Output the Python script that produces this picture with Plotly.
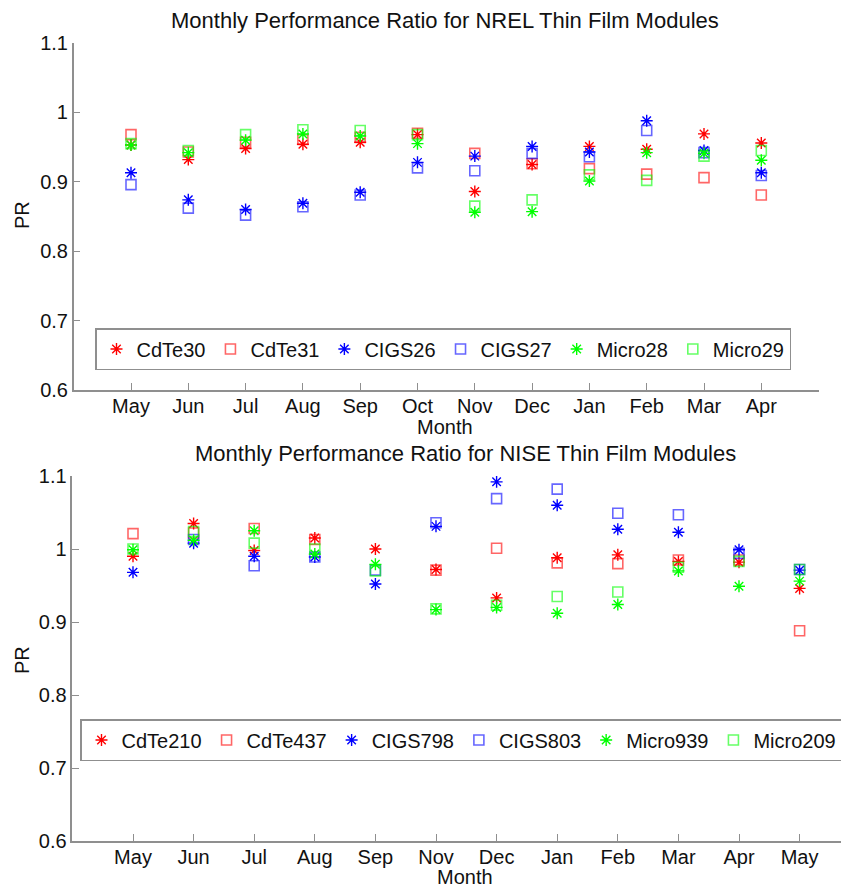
import plotly.graph_objects as go

# ---------------- data ----------------
month_pos = list(range(1, 13))
months_nrel = ["May", "Jun", "Jul", "Aug", "Sep", "Oct", "Nov", "Dec", "Jan", "Feb", "Mar", "Apr"]
months_nise = ["May", "Jun", "Jul", "Aug", "Sep", "Nov", "Dec", "Jan", "Feb", "Mar", "Apr", "May"]
y_ticks = [0.6, 0.7, 0.8, 0.9, 1.0, 1.1]
y_ticktext = ["0.6", "0.7", "0.8", "0.9", "1", "1.1"]

# NREL
cdte30 = [0.953, 0.932, 0.948, 0.954, 0.957, 0.968, 0.886, 0.925, 0.951, 0.947, 0.969, 0.956]
cdte31 = [0.968, 0.943, 0.957, 0.961, 0.964, 0.970, 0.941, 0.926, 0.919, 0.911, 0.906, 0.881]
cigs26 = [0.913, 0.874, 0.860, 0.869, 0.885, 0.928, 0.937, 0.951, 0.943, 0.988, 0.945, 0.913]
cigs27 = [0.896, 0.862, 0.852, 0.864, 0.881, 0.920, 0.916, 0.941, 0.936, 0.974, 0.942, 0.909]
micro28 = [0.953, 0.942, 0.960, 0.969, 0.966, 0.955, 0.856, 0.857, 0.901, 0.942, 0.941, 0.931]
micro29 = [0.955, 0.945, 0.968, 0.975, 0.974, 0.968, 0.865, 0.874, 0.910, 0.902, 0.937, 0.945]

# NISE
cdte210 = [0.990, 1.035, 0.998, 1.015, 1.000, 0.972, 0.933, 0.988, 0.992, 0.983, 0.982, 0.946]
cdte437 = [1.021, 1.022, 1.028, 1.013, None, 0.971, 1.001, 0.981, 0.980, 0.985, 0.985, 0.888]
cigs798 = [0.968, 1.008, 0.990, 0.989, 0.952, 1.031, 1.092, 1.060, 1.027, 1.023, 0.999, 0.971]
cigs803 = [None, 1.013, 0.977, 0.989, 0.971, 1.036, 1.069, 1.082, 1.049, 1.047, 0.994, 0.972]
micro939 = [0.999, 1.012, 1.025, 0.993, 0.979, 0.917, 0.920, 0.912, 0.924, 0.970, 0.949, 0.956]
micro209 = [1.000, 1.024, 1.008, 1.000, 0.970, 0.918, 0.923, 0.935, 0.941, 0.975, 0.983, 0.972]

RED, BLUE, GREEN = "#ff0000", "#0000ff", "#00ff00"
FONT = "Liberation Sans, Arial, sans-serif"

top_series = [("CdTe30", cdte30, RED, "star"), ("CdTe31", cdte31, RED, "sq"),
              ("CIGS26", cigs26, BLUE, "star"), ("CIGS27", cigs27, BLUE, "sq"),
              ("Micro28", micro28, GREEN, "star"), ("Micro29", micro29, GREEN, "sq")]
bot_series = [("CdTe210", cdte210, RED, "star"), ("CdTe437", cdte437, RED, "sq"),
              ("CIGS798", cigs798, BLUE, "star"), ("CIGS803", cigs803, BLUE, "sq"),
              ("Micro939", micro939, GREEN, "star"), ("Micro209", micro209, GREEN, "sq")]

fig = go.Figure()


def marker_for(color, kind):
    if kind == "star":
        return dict(symbol="asterisk-open", size=10, color=color,
                    line=dict(color=color, width=1.4))
    return dict(symbol="square-open", size=10, color=color, opacity=0.6,
                line=dict(color=color, width=1.6))


for name, vals, color, kind in top_series:
    fig.add_trace(go.Scatter(x=month_pos, y=vals, mode="markers", name=name,
                             marker=marker_for(color, kind), xaxis="x", yaxis="y",
                             legend="legend"))
for name, vals, color, kind in bot_series:
    fig.add_trace(go.Scatter(x=month_pos, y=vals, mode="markers", name=name,
                             marker=marker_for(color, kind), xaxis="x2", yaxis="y2",
                             legend="legend2"))

OFF = 8  # page body margin offset
W, H = 849 - OFF, 888 - OFF


def px(v):
    return (v - OFF) / W


def py(v):
    return 1 - (v - OFF) / H


axis_col = "#8f8f8f"
common_x = dict(showline=True, linecolor=axis_col, linewidth=1.5, ticks="inside",
                ticklen=7, tickcolor=axis_col, tickwidth=1.2, showgrid=False,
                zeroline=False, tickfont=dict(size=20, color="#111"), automargin=False,
                ticklabelstandoff=-3)
common_y = dict(showline=True, linecolor=axis_col, linewidth=1.5, ticks="inside",
                ticklen=7, tickcolor=axis_col, tickwidth=1.2, showgrid=False,
                zeroline=False, tickfont=dict(size=20, color="#111"), automargin=False,
                tickvals=y_ticks, ticktext=y_ticktext, range=[0.6, 1.1])

x2_left, x2_unit = 72.4, 60.6
x2_right = 849
x2_max = (x2_right - x2_left) / x2_unit


def label(text, x, y, size=20, angle=0):
    return dict(text=text, x=px(x), y=py(y), xref="paper", yref="paper",
                xanchor="center", yanchor="middle", showarrow=False,
                textangle=angle, font=dict(size=size))


fig.update_layout(
    width=W, height=H,
    margin=dict(l=0, r=0, t=0, b=0),
    paper_bgcolor="white", plot_bgcolor="white",
    font=dict(family=FONT, size=20, color="#111"),
    xaxis=dict(common_x, domain=[px(73.7), px(818.6)], range=[0, 13],
               tickvals=month_pos, ticktext=months_nrel, anchor="y"),
    yaxis=dict(common_y, domain=[py(390), py(43)], anchor="x"),
    xaxis2=dict(common_x, domain=[px(x2_left), px(x2_right)], range=[0, x2_max],
                tickvals=month_pos, ticktext=months_nise, anchor="y2"),
    yaxis2=dict(common_y, domain=[py(841), py(476)], anchor="x2"),
    legend=dict(orientation="h", x=px(95), y=py(328), xanchor="left", yanchor="top",
                bordercolor=axis_col, borderwidth=1.5, bgcolor="white",
                font=dict(size=20, color="#111"), itemwidth=30),
    legend2=dict(orientation="h", x=px(80), y=py(719), xanchor="left", yanchor="top",
                 bordercolor=axis_col, borderwidth=1.5, bgcolor="white",
                 font=dict(size=20, color="#111"), itemwidth=30),
    annotations=[
        label("Monthly Performance Ratio for NREL Thin Film Modules", 445, 21, size=22),
        label("Monthly Performance Ratio for NISE Thin Film Modules", 465, 453, size=22),
        label("PR", 22, 215, angle=-90),
        label("PR", 22, 660, angle=-90),
        label("Month", 445, 427),
        label("Month", 465, 877),
    ],
)

fig.write_html("out.html")
